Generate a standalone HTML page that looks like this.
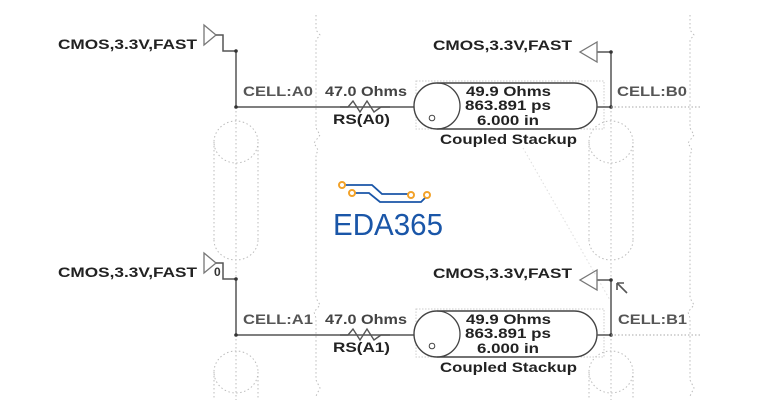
<!DOCTYPE html>
<html><head><style>
html,body{margin:0;padding:0;background:#fff;}
svg{display:block;}
text{font-family:"Liberation Sans",Arial,sans-serif;font-weight:bold;}
</style></head><body>
<svg width="780" height="416" viewBox="0 0 780 416" xmlns="http://www.w3.org/2000/svg">
<defs>
<g id="row">
  <text x="58" y="49" font-size="14" fill="#222" textLength="139" lengthAdjust="spacingAndGlyphs">CMOS,3.3V,FAST</text>
  <polygon points="204,25 216,35 204,45" fill="none" stroke="#777" stroke-width="1.3"/>
  <polyline points="216,35 223,35 223,51 236,51 236,107 437,107" fill="none" stroke="#555" stroke-width="1.5"/>
  <circle cx="236" cy="51" r="1.8" fill="#333"/>
  <circle cx="236" cy="107" r="1.8" fill="#333"/>
  <text x="325" y="96" font-size="14" fill="#444" textLength="82" lengthAdjust="spacingAndGlyphs">47.0 Ohms</text>
  <polyline points="340,107 348,107 353,101 360,112 367,101 374,112 381,107 390,107" fill="none" stroke="#555" stroke-width="1.4"/>
  <rect x="416" y="81" width="188" height="48" fill="none" stroke="#ccc" stroke-dasharray="1.5,1.5"/>
  <path d="M437,83 L574,83 A23,23 0 0 1 574,129 L437,129 A23,23 0 0 1 437,83 Z" fill="#fff" stroke="#444" stroke-width="1.4"/>
  <path d="M437,83 A23,23 0 0 1 437,129" fill="none" stroke="#444" stroke-width="1.3"/>
  <circle cx="432" cy="118" r="2.8" fill="none" stroke="#444"/>
  <text x="466" y="96" font-size="14" fill="#222" textLength="85" lengthAdjust="spacingAndGlyphs">49.9 Ohms</text>
  <text x="465" y="110" font-size="14" fill="#222" textLength="86" lengthAdjust="spacingAndGlyphs">863.891 ps</text>
  <text x="477" y="125" font-size="14" fill="#222" textLength="62" lengthAdjust="spacingAndGlyphs">6.000 in</text>
  <text x="440" y="144" font-size="14" fill="#222" textLength="137" lengthAdjust="spacingAndGlyphs">Coupled Stackup</text>
  <polyline points="597,107 611,107 611,52 597,52" fill="none" stroke="#555" stroke-width="1.5"/>
  <circle cx="611" cy="52" r="1.8" fill="#333"/>
  <circle cx="611" cy="107" r="1.8" fill="#333"/>
  <polygon points="597,42 580,52 597,62" fill="none" stroke="#777" stroke-width="1.3"/>
  <text x="433" y="50" font-size="14" fill="#222" textLength="139" lengthAdjust="spacingAndGlyphs">CMOS,3.3V,FAST</text>
  <line x1="611" y1="107" x2="700" y2="107" stroke="#aaa" stroke-dasharray="1.5,2"/>
</g>
</defs>
<g stroke="#bbb" stroke-dasharray="1.5,2.5" fill="none" stroke-width="1">
  <polyline points="316,15 316,30 320,35 316,40 316,128 320,135 314,143 318,150 316,155 316,298 320,305 314,312 316,318 316,380 320,388 316,396"/>
  <polyline points="690,15 690,30 694,35 690,40 690,128 694,135 688,143 692,150 690,155 690,298 694,305 688,312 690,318 690,380 694,388 690,396"/>
  <line x1="236" y1="107" x2="236" y2="400"/>
  <ellipse cx="236" cy="142" rx="22" ry="21"/>
  <line x1="214" y1="142" x2="214" y2="240"/><line x1="258" y1="142" x2="258" y2="240"/>
  <path d="M214,240 A22,20 0 0 0 258,240"/>
  <ellipse cx="236" cy="372" rx="22" ry="21"/>
  <line x1="214" y1="372" x2="214" y2="400"/><line x1="258" y1="372" x2="258" y2="400"/>
  <line x1="611" y1="107" x2="611" y2="400"/>
  <ellipse cx="611" cy="142" rx="22" ry="21"/>
  <line x1="589" y1="142" x2="589" y2="240"/><line x1="633" y1="142" x2="633" y2="240"/>
  <path d="M589,240 A22,20 0 0 0 633,240"/>
  <ellipse cx="611" cy="372" rx="22" ry="21"/>
  <line x1="589" y1="372" x2="589" y2="400"/><line x1="633" y1="372" x2="633" y2="400"/>
  <line x1="523" y1="148" x2="610" y2="300" stroke="#ddd"/>
</g>
<use href="#row"/>
<use href="#row" transform="translate(0,228)"/>
<text x="243" y="96" font-size="14" fill="#555" textLength="70" lengthAdjust="spacingAndGlyphs">CELL:A0</text>
<text x="333" y="124" font-size="14" fill="#222" textLength="57" lengthAdjust="spacingAndGlyphs">RS(A0)</text>
<text x="617" y="96" font-size="14" fill="#555" textLength="70" lengthAdjust="spacingAndGlyphs">CELL:B0</text>
<text x="243" y="324" font-size="14" fill="#555" textLength="70" lengthAdjust="spacingAndGlyphs">CELL:A1</text>
<text x="333" y="352" font-size="14" fill="#222" textLength="57" lengthAdjust="spacingAndGlyphs">RS(A1)</text>
<text x="618" y="324" font-size="14" fill="#555" textLength="69" lengthAdjust="spacingAndGlyphs">CELL:B1</text>
<text x="214" y="276" font-size="12" fill="#333">0</text>
<path d="M617,283 L627,293 M617,283 L617,290 M617,283 L624,283" fill="none" stroke="#555" stroke-width="1.6"/>
<g fill="none" stroke="#1a56a8" stroke-width="1.8">
  <polyline points="345,185 372,185 382,194 411,194"/>
  <polyline points="355,193 369,193 380,202 421,202 427,196"/>
</g>
<g fill="#fff" stroke="#f2a22a" stroke-width="2">
  <circle cx="342" cy="185" r="3"/><circle cx="352" cy="193" r="3"/>
  <circle cx="411" cy="195" r="3"/><circle cx="427" cy="195" r="3"/>
</g>
<text x="333" y="235" font-size="31" fill="#1a56a8" textLength="110" lengthAdjust="spacingAndGlyphs" style="font-weight:normal">EDA365</text>
</svg>
</body></html>
